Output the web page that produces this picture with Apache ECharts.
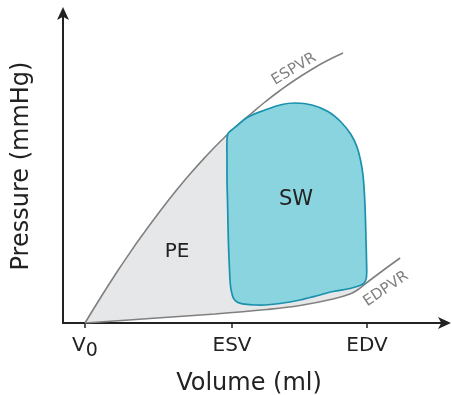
<!DOCTYPE html>
<html>
<head>
<meta charset="utf-8">
<script src="https://cdn.jsdelivr.net/npm/echarts@6/dist/echarts.min.js"></script>
<style>
html,body{margin:0;padding:0;background:#fff;}
#c{width:452px;height:395px;}
</style>
</head>
<body>
<div id="c"></div>
<script>
// ---- data (volume units, pressure units) ----
var tickValues = [9.2, 70.8, 127.3];
var tickLabels = ['V0', 'ESV', 'EDV'];

var espvrX = [9.21, 15.50, 21.78, 28.06, 34.35, 40.63, 46.91, 53.19, 59.48, 65.76, 72.04, 78.32, 84.61, 90.89, 97.17, 103.46, 109.74, 117.28];
var espvrY = [0, 12.25, 24, 35.2, 45.8, 55.9, 65.45, 74.45, 82.85, 90.65, 97.75, 104.25, 110.5, 116.25, 121.5, 126.25, 130.6, 135];

var edpvrX = [9.2, 36.4, 63.7, 85.4, 99.3, 113.1, 120.2, 123.6, 126.5, 134.0, 141.2];
var edpvrY = [0, 2.25, 4.5, 6.75, 8.75, 12, 14.5, 16.75, 19.5, 26.25, 32.5];

var loopX = [69.11, 68.69, 68.69, 68.69, 68.90, 69.11, 69.32, 69.74, 70.16, 70.79, 71.62, 73.30, 76.23, 80.42, 84.61, 90.89, 95.08, 99.27, 103.46, 107.64, 113.09, 120.21, 124.40, 126.28, 127.12, 127.12, 126.91, 126.70, 126.28, 125.65, 124.61, 123.14, 120.63, 116.44, 110.99, 104.29, 97.17, 91.73, 84.61, 77.49, 72.46, 70.37];
var loopY = [94.75, 91.5, 81.5, 71.5, 61.5, 49, 39, 26.5, 18.5, 14.5, 12, 10.25, 9.4, 9, 9, 9.75, 10.5, 11.5, 12.75, 14, 15.75, 17.25, 18.75, 20.25, 23, 31.5, 41.5, 51.5, 64, 74, 81.5, 88, 94.25, 100.5, 105.75, 109, 110, 109.25, 106.5, 103, 98.25, 96.25];

var FONT = 'DejaVu Sans';

function zip(xs, ys) { return xs.map(function (x, i) { return [x, ys[i]]; }); }
var espvr = zip(espvrX, espvrY);
var edpvr = zip(edpvrX, edpvrY);
var loop = zip(loopX, loopY);

// PE area: ESPVR up to the ESV corner of the loop, across to the EDV corner, back along EDPVR
var esCorner = loop[0];
var edCorner = edpvr[8];
var peArea = espvr.filter(function (p) { return p[0] < esCorner[0]; })
  .concat([esCorner, edCorner])
  .concat(edpvr.filter(function (p) { return p[0] < edCorner[0]; }).reverse());

function polySeries(points, style, z, smooth) {
  return {
    type: 'custom',
    z: z,
    silent: true,
    data: [0],
    renderItem: function (params, api) {
      var pts = points.map(function (p) { return api.coord(p); });
      return { type: 'polygon', shape: { points: pts, smooth: smooth }, style: style };
    }
  };
}

var chart = echarts.init(document.getElementById('c'));
chart.setOption({
  animation: false,
  grid: { left: 63, right: 7, top: 13, bottom: 72, containLabel: false, outerBoundsMode: 'none' },
  xAxis: {
    type: 'value', min: 0, max: 160,
    name: 'Volume (ml)', nameLocation: 'middle', nameGap: 49,
    nameTextStyle: { fontFamily: FONT, fontSize: 24, color: '#222', padding: [0, 10, 0, 0] },
    axisLine: { show: true, symbol: ['none', 'arrow'], symbolSize: [9, 13], symbolOffset: [0, 6], lineStyle: { color: '#222', width: 2 } },
    axisTick: { show: true, customValues: tickValues, length: 5, lineStyle: { color: '#222', width: 1.5 } },
    axisLabel: {
      customValues: tickValues, margin: 13,
      formatter: function (v) {
        var i = tickValues.indexOf(v);
        var t = i >= 0 ? tickLabels[i] : '';
        if (t === 'V0') return '{v|V}{s|0}';
        return '{v|' + t + '}';
      },
      rich: {
        v: { fontFamily: FONT, fontSize: 20, color: '#222', lineHeight: 20, verticalAlign: 'top' },
        s: { fontFamily: FONT, fontSize: 19, color: '#222', lineHeight: 25, verticalAlign: 'bottom' }
      }
    },
    splitLine: { show: false }
  },
  yAxis: {
    type: 'value', min: 0, max: 155,
    name: 'Pressure (mmHg)', nameLocation: 'middle', nameGap: 29,
    nameTextStyle: { fontFamily: FONT, fontSize: 24, color: '#222', padding: [0, 0, 0, 4] },
    axisLine: { show: true, symbol: ['none', 'arrow'], symbolSize: [9, 13], symbolOffset: [0, 6], lineStyle: { color: '#222', width: 2 } },
    axisTick: { show: false },
    axisLabel: { show: false },
    splitLine: { show: false }
  },
  series: [
    polySeries(peArea, { fill: '#e6e7e9', stroke: null }, 1, 0),
    {
      type: 'line', data: espvr, smooth: 0.5, showSymbol: false, z: 2, silent: true,
      lineStyle: { color: '#808080', width: 1.6 }
    },
    {
      type: 'line', data: edpvr, smooth: 0.4, showSymbol: false, z: 2, silent: true,
      lineStyle: { color: '#808080', width: 1.6 }
    },
    polySeries(loop, { fill: '#89d4df', stroke: '#1b91ad', lineWidth: 1.7 }, 3, 0.4)
  ],
  graphic: [
    { type: 'text', x: 177, y: 252, z: 10, style: { text: 'PE', fontFamily: FONT, fontSize: 20, fill: '#222', align: 'center', verticalAlign: 'middle' } },
    { type: 'text', x: 296, y: 200, z: 10, style: { text: 'SW', fontFamily: FONT, fontSize: 21, fill: '#222', align: 'center', verticalAlign: 'middle' } },
    { type: 'text', x: 294, y: 69, rotation: 31 * Math.PI / 180, z: 10, style: { text: 'ESPVR', fontFamily: FONT, fontSize: 15, fill: '#808080', align: 'center', verticalAlign: 'middle' } },
    { type: 'text', x: 386, y: 289, rotation: 34 * Math.PI / 180, z: 10, style: { text: 'EDPVR', fontFamily: FONT, fontSize: 15, fill: '#808080', align: 'center', verticalAlign: 'middle' } }
  ]
});
</script>
</body>
</html>
